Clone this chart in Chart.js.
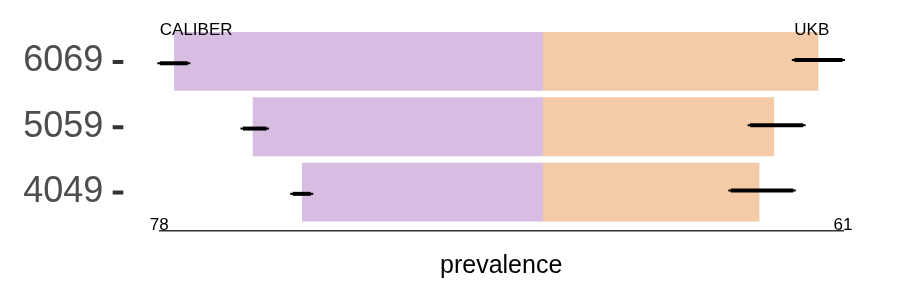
<!DOCTYPE html>
<html>
<head>
<meta charset="utf-8">
<script src="https://cdn.jsdelivr.net/npm/chart.js@4"></script>
<style>
  html, body { margin: 0; padding: 0; background: #fff; }
  #wrap { width: 900px; height: 300px; }
</style>
</head>
<body>
<div id="wrap"><canvas id="c" width="900" height="300"></canvas></div>
<script>
// ---- data ----
const categories = ['6069', '5059', '4049'];
const caliberValues = [75, 59, 49];
const ukbValues = [56, 47, 44];
const caliberLow = [71.7, 55.7, 46.7];
const caliberHigh = [78.4, 61.5, 51.4];
const ukbLow = [50.6, 41.6, 37.7];
const ukbHigh = [61.4, 53.4, 51.4];
const xTickLabels = ['78', '61'];
const xMin = -78;
const xMax = 61;
const groupNames = ['CALIBER', 'UKB'];

const FONT = '"Liberation Sans", Arial, Helvetica, sans-serif';

const overlay = {
  id: 'overlay',
  afterDatasetsDraw(chart) {
    const ctx = chart.ctx;
    const xs = chart.scales.x, ys = chart.scales.y;
    ctx.save();
    ctx.strokeStyle = '#000';
    const bar = (a, b, y) => {
      const l = Math.min(a, b), r = Math.max(a, b);
      ctx.lineCap = 'butt';
      ctx.lineWidth = 2;
      ctx.beginPath(); ctx.moveTo(l, y); ctx.lineTo(r, y); ctx.stroke();
      ctx.lineWidth = 4;
      ctx.beginPath(); ctx.moveTo(l + 2.5, y); ctx.lineTo(r - 2.5, y); ctx.stroke();
    };
    categories.forEach((c, i) => {
      const y = ys.getPixelForValue(i);
      bar(xs.getPixelForValue(-caliberLow[i]), xs.getPixelForValue(-caliberHigh[i]), y + 1.8);
      bar(xs.getPixelForValue(ukbLow[i]), xs.getPixelForValue(ukbHigh[i]), y - 1.5);
      ctx.fillStyle = '#333333';
      ctx.fillRect(112.7, y - 1.5, 10.6, 4);
    });
    ctx.fillStyle = '#000';
    ctx.font = '17px ' + FONT;
    ctx.textBaseline = 'alphabetic';
    ctx.textAlign = 'left';
    ctx.fillText(groupNames[0], xs.getPixelForValue(xMin) + 0.5, 34.5);
    ctx.textAlign = 'right';
    ctx.fillText(groupNames[1], xs.getPixelForValue(58.2), 34.5);
    ctx.textAlign = 'center';
    ctx.fillText(xTickLabels[0], xs.getPixelForValue(xMin), 230);
    ctx.fillText(xTickLabels[1], xs.getPixelForValue(xMax), 230);
    ctx.restore();
  }
};

new Chart(document.getElementById('c'), {
  type: 'bar',
  data: {
    datasets: [
      {
        label: groupNames[0],
        data: caliberValues.map((v, i) => ({ x: -v, y: i })),
        backgroundColor: '#d7bde2',
        borderWidth: 0,
        barPercentage: 0.9,
        categoryPercentage: 1.0
      },
      {
        label: groupNames[1],
        data: ukbValues.map((v, i) => ({ x: v, y: i })),
        backgroundColor: '#f5cba7',
        borderWidth: 0,
        barPercentage: 0.9,
        categoryPercentage: 1.0
      }
    ]
  },
  options: {
    indexAxis: 'y',
    responsive: false,
    animation: false,
    events: [],
    layout: { padding: { left: 0, right: 57, top: 22.3, bottom: 0 } },
    plugins: { legend: { display: false }, tooltip: { enabled: false } },
    scales: {
      x: {
        type: 'linear',
        stacked: true,
        min: xMin,
        max: xMax,
        offset: false,
        grid: { display: false, drawTicks: false },
        border: { display: true, color: '#333333', width: 1.5 },
        ticks: { display: false },
        title: {
          display: true,
          text: 'prevalence',
          color: '#000',
          font: { family: FONT, size: 25 },
          padding: { top: 4, bottom: 19 }
        },
        afterFit(s) { s.height = 68.8; s.paddingLeft = 0; s.paddingRight = 0; }
      },
      y: {
        type: 'linear',
        stacked: true,
        reverse: true,
        offset: false,
        min: -0.6,
        max: 2.6,
        grid: { display: false, drawTicks: false },
        border: { display: false },
        afterBuildTicks(s) { s.ticks = categories.map((c, i) => ({ value: i })); },
        ticks: {
          autoSkip: false,
          padding: 56,
          color: '#4d4d4d',
          font: { family: FONT, size: 36 },
          callback: (v) => categories[v]
        },
        afterFit(s) { s.width = 159.3; s.paddingTop = 0; s.paddingBottom = 0; }
      }
    }
  },
  plugins: [overlay]
});
</script>
</body>
</html>
